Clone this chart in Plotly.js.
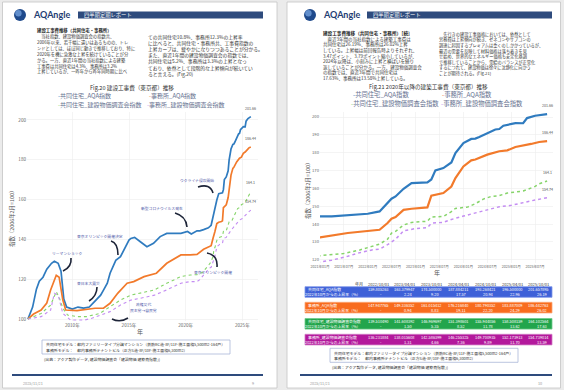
<!DOCTYPE html>
<html><head><meta charset="utf-8">
<script src="https://cdn.plot.ly/plotly-3.0.1.min.js"></script>
<style>html,body{margin:0;padding:0;background:#ebebeb}#chart{width:564px;height:390px}</style>
</head><body><div id="chart"></div>
<script>
// ---------------- DATA ----------------
const seriesNames = ['共同住宅_AQA指数','事務所_AQA指数','共同住宅_建設物価調査会指数','事務所_建設物価調査会指数'];

const kyodoAqaDates = ['2006-02','2006-07','2006-11','2007-02','2007-06','2007-10','2008-03','2008-06','2008-10','2009-01','2009-04','2009-07','2010-01','2010-07','2011-01','2011-07','2012-01','2012-07','2012-10','2013-02','2013-05','2013-11','2014-04','2014-09','2015-01','2015-03','2015-07','2016-01','2016-08','2017-03','2017-10','2018-05','2019-08','2020-03','2020-07','2021-01','2021-04','2021-08','2022-01','2022-04','2022-06','2022-07','2022-08','2022-10','2022-12','2023-03','2023-04','2023-05','2023-06','2023-08','2023-10','2023-11','2024-01','2024-03','2024-04','2024-05','2024-07','2024-09','2024-10','2024-11','2025-02','2025-04','2025-05','2025-07','2025-10'];
const kyodoAqaVals = [100,106,115,119,121,125,128,129,128,124,110,106,105,106,105.5,106,109,112,114.5,118,123,129.5,131.3,136.3,139.7,140.5,141,138.8,136.3,138,141.4,143,143,144,142.7,144.3,144.3,144.9,145.8,147.1,151.8,154.2,155.5,159.805263,163,163.2,163.379947,165,170.1,171.4,174.5,179.8,185.4,187.7,187.884211,188.8,191,193,193.268421,195.1,196.6,196.5,199.4,200.7,201.657895];

const jimushoAqaDates = ['2006-02','2006-08','2007-04','2007-10','2008-02','2008-08','2008-11','2009-03','2009-06','2010-06','2012-01','2012-10','2013-05','2014-01','2014-11','2015-06','2016-05','2017-06','2018-05','2019-08','2020-06','2021-01','2021-08','2022-02','2022-04','2022-06','2022-07','2022-08','2022-10','2022-12','2023-03','2023-04','2023-05','2023-08','2023-10','2023-11','2024-01','2024-03','2024-04','2024-07','2024-10','2024-12','2025-02','2025-04','2025-06','2025-08','2025-10'];
const jimushoAqaVals = [100,102.5,104.5,108,114.6,122,121,109.5,104.5,104.2,105.4,105.4,107.9,112.9,118,118.8,121.3,123,128,132.2,132.2,132.5,135,136.3,136.8,140.6,143,144,147.947765,148.6,149.0,149.336352,155.9,157.4,161.015412,165.8,172.3,175.7,176.21684,178.9,180.790352,181.3,183.2,183.887009,184.9,186.0,186.442763];

const kyodoKenDates = ['2006-02','2007-04','2008-02','2008-08','2008-11','2009-03','2009-08','2010-06','2011-04','2012-06','2013-05','2014-04','2015-03','2016-01','2017-04','2018-05','2019-08','2020-06','2021-01','2021-07','2021-11','2022-02','2022-04','2022-06','2022-07','2022-08','2022-10','2022-12','2023-04','2023-05','2023-08','2023-10','2023-11','2024-02','2024-04','2024-06','2024-08','2024-10','2024-12','2025-04','2025-07','2025-08','2025-10'];
const kyodoKenVals = [100,102.8,107,113.7,111,105.4,102,101.2,101.2,102.8,106.2,109.5,112,112.9,114.6,118,121.3,122.1,122.3,123.5,125.5,127.5,128.8,131.5,135,135.9,139.51049,140.9,141.608392,144,144.3,146.969697,148.8,149.5,151.398601,154,155.5,155.944056,157.4,158.508159,161.1,162.6,164.102564];

const jimushoKenDates = ['2006-02','2007-04','2008-02','2008-06','2008-10','2009-03','2009-11','2011-02','2011-09','2012-06','2013-05','2014-04','2015-03','2016-01','2017-04','2018-05','2019-08','2020-06','2021-01','2021-04','2021-08','2021-11','2022-02','2022-04','2022-06','2022-08','2022-10','2023-01','2023-04','2023-05','2023-08','2023-10','2024-01','2024-04','2024-07','2024-10','2025-01','2025-04','2025-07','2025-10'];
const jimushoKenVals = [100,101.2,104.5,112.9,112,102.8,99.5,99.5,100.3,102,103.7,107,109.5,110.4,112,114.6,118,118.8,118.8,119.8,122,124,125.5,126,128.5,131.5,136.231884,137.5,138.015608,140.5,141,142.586399,144.5,146.255325,148,149.700935,150.5,152.173913,153.5,154.739014];

const yearTicks = ['2010-01-01','2015-01-01','2020-01-01','2025-01-01'];
const yearTickLabels = ['2010年','2015年','2020年','2025年'];
const monthTicks = ['2021-01-01','2021-07-01','2022-01-01','2022-07-01','2023-01-01','2023-07-01','2024-01-01','2024-07-01','2025-01-01','2025-07-01'];
const monthTickLabels = ['2021年01月','2021年07月','2022年01月','2022年07月','2023年01月','2023年07月','2024年01月','2024年07月','2025年01月','2025年07月'];
const yTicksLeft = [100,120,140,160,180,200];
const yTicksRight = [120,130,140,150,160,170,180,190,200];

const tableDates = ['2022/10/01','2023/04/01','2023/10/01','2024/04/01','2024/10/01','2025/04/01','2025/10/01'];
const tableKyodoAqa = [159.805263,163.379947,174.500000,187.884211,193.268421,196.500000,201.657895];
const tableJimushoAqa = [147.947765,149.336352,161.015412,176.216840,180.790352,183.887009,186.442763];
const tableKyodoKen = [139.510490,141.608392,146.969697,151.398601,155.944056,158.508159,164.102564];
const tableJimushoKen = [136.231884,138.015608,142.586399,146.255325,149.700935,152.173913,154.739014];
const rateRowLabel = '2022年10月からの上昇率（%）';

// ---------------- HELPERS ----------------
const W = 564, H = 390;
const FONT = '"Noto Sans CJK JP","Noto Sans",sans-serif';
const px = x => x / W;
const py = y => 1 - y / H;
const shapes = [];
const ann = [];
function rect(x0, y0, x1, y1, fill, line, lw, layer) {
  shapes.push({type:'rect', xref:'paper', yref:'paper', x0:px(x0), x1:px(x1), y0:py(y1), y1:py(y0),
    fillcolor:fill, line:{color:line||'rgba(0,0,0,0)', width:lw||0}, layer:layer||'below'});
}
function circle(cx, cy, r, fill) {
  shapes.push({type:'circle', xref:'paper', yref:'paper', x0:px(cx-r), x1:px(cx+r), y0:py(cy+r), y1:py(cy-r),
    fillcolor:fill, line:{width:0}, layer:'above'});
}
function hline(x0, x1, y, color, w) {
  shapes.push({type:'line', xref:'paper', yref:'paper', x0:px(x0), x1:px(x1), y0:py(y), y1:py(y), line:{color, width:w}, layer:'above'});
}
function T(x, y, text, size, color, anchor, family) {
  ann.push({xref:'paper', yref:'paper', x:px(x), y:py(y), text, showarrow:false, xanchor:anchor||'left', yanchor:'middle',
    font:{size, color:color||'#333', family:family||FONT}, borderpad:0});
}
const ARROW = '#1d2438';
function curveArrow(x0, y0, cx, cy, x1, y1) {
  shapes.push({type:'path', xref:'paper', yref:'paper', layer:'above',
    path:`M ${px(x0)} ${py(y0)} Q ${px(cx)} ${py(cy)} ${px(x1)} ${py(y1)}`, line:{color:ARROW, width:1.6}});
  const dx = x1 - cx, dy = y1 - cy, L = Math.hypot(dx, dy);
  ann.push({xref:'paper', yref:'paper', x:px(x1), y:py(y1), ax:-dx/L*3, ay:-dy/L*3, axref:'pixel', ayref:'pixel',
    showarrow:true, arrowhead:2, arrowsize:0.9, arrowwidth:1.6, arrowcolor:ARROW, text:''});
}

// ---------------- PAGES ----------------
rect(2.5, 2, 277, 388, '#ffffff', '#c4c4c4', 0.8);
rect(287, 2, 560.5, 388, '#ffffff', '#c4c4c4', 0.8);

const NAVY = '#2e4b7d';
function header(lx, barX0, barX1) {
  circle(lx, 15, 6, '#1f4a8c');
  circle(lx - 1.6, 13.2, 3.2, 'rgba(120,165,225,0.75)');
  T(lx + 12, 15, '<b>AQAngle</b>', 9, '#1f3d73', 'left', 'Lato, "Noto Sans", sans-serif');
  rect(barX0, 11.5, barX1, 18.5, NAVY, null, 0, 'above');
  T(barX0 + 5, 15, '四半期定期レポート', 5.3, '#ffffff', 'left');
}
header(20, 78, 263);
header(310, 367, 552);

// ---------------- LEFT PAGE TEXT ----------------
T(36, 31, '<b>建設工事費推移（共同住宅・事務所）</b>', 4.4, '#222');
const leftColA = ['　当社指数、建設物価調査会の指数共、','2006年以来、若干幅に違いはあるものの、トレ','ンドとしては、ほぼ同じ動きで推移しており、特に','2020年を機に急激な上昇を続けていることが分','かる。一方、直近1年間の当社指数による建築','工事費は共同住宅は4.3%、事務所は3.2%','上昇しているが、一昨年から昨年同時期に比べ'];
leftColA.forEach((s,i)=>T(36, 36.5 + i*5.9, s, 4.3, '#333'));
const leftColB = ['ての共同住宅10.8%、事務所12.3%の上昇率','に比べると、共同住宅・事務所共、工事費指数の','上昇カーブは、緩やかになりつつあることが分かる。','また、直近1年間の建設物価調査会の指数では、','共同住宅は5.2%、事務所は3.3%の上昇となっ','ており、依然として段階的な上昇傾向が続いてい','ると言える。(Fig.20)'];
leftColB.forEach((s,i)=>T(147, 36.5 + i*6.2, s, 4.8, '#333'));
T(132, 88.3, 'Fig.20 建設工事費（東京都）推移', 5.6, '#333', 'center');

// ---------------- RIGHT PAGE TEXT ----------------
T(322, 33, '<b>建設工事費推移（共同住宅・事務所）［続］</b>', 4.6, '#222');
const rightColA = ['　直近3年間の当社指数による建築工事費は','共同住宅は26.19%、事務所は26.02%上昇','している。上昇幅は前回報告時よりそれぞれ、','3.47ポイント、3.79ポイント縮小しているが、','2024年以降は、小刻みに上昇と横ばいを繰り','返していることが分かる。一方、建設物価調査会','の指数では、直近3年間で共同住宅は','17.63%、事務所は13.58%上昇している。'];
rightColA.forEach((s,i)=>T(322, 39.3 + i*5.57, s, 4.5, '#333'));
const rightColB = ['　先行きの建設工事価格においては、依然として','労務費は上昇傾向が続き、ゼネコンやサブコンの','調達に起因するプレミアムは重くのしかかっているが、','最近の需要を反映して材料価格は落ち着きを見','せ始め、世界的なエネルギー価格も安定化基調','で推移していることから、需給のバランスが正常化','するにつれて、建設物価は徐々に沈静化に向かう','ことが期待される。(Fig.21)'];
rightColB.forEach((s,i)=>T(438, 34.3 + i*5.57, s, 4.2, '#333'));
T(428, 87.3, 'Fig.21 2020年以降の建築工事費（東京都）推移', 5.6, '#333', 'center');

// ---------------- LEGENDS ----------------
const colors = ['#2f7bbf','#f27a2b','#86d46a','#c48df2'];
const LEG = '#66718f';
function legItem(x, y, i, size) {
  T(x, y, `<span style="color:${colors[i]}">-</span>${seriesNames[i]}`, size, LEG);
}
legItem(57, 95.8, 0, 6); legItem(148, 95.8, 1, 6); legItem(57, 104.3, 2, 6); legItem(146, 104.3, 3, 6);
legItem(352, 94.5, 0, 6.3); legItem(441, 94.5, 1, 6.3); legItem(350, 104, 2, 6.3); legItem(440, 104, 3, 6.3);

// ---------------- AXIS TITLES ----------------
ann.push({xref:'paper', yref:'paper', x:px(12), y:py(218), text:'指数（2006年2月=100）', textangle:-90, showarrow:false,
  font:{size:5.4, color:'#555', family:FONT}, xanchor:'center', yanchor:'middle'});
ann.push({xref:'paper', yref:'paper', x:px(308), y:py(190), text:'指数（2006年2月=100）', textangle:-90, showarrow:false,
  font:{size:5.4, color:'#555', family:FONT}, xanchor:'center', yanchor:'middle'});
T(140, 331, '年', 6, '#555', 'center');
T(437, 272, '年', 6, '#555', 'center');

// ---------------- EVENT ANNOTATIONS (left chart) ----------------
const EV = '#4b55a8';
T(67, 253, 'リーマンショック', 3.8, EV, 'center');
curveArrow(71, 258, 72, 267, 63, 271);
T(88, 283, '東日本大震災', 3.8, EV, 'center');
curveArrow(97, 287, 97, 296, 89, 301);
T(100, 237, '東京オリンピック開催決定', 3.8, EV, 'center');
curveArrow(111, 241, 118, 243, 118, 255);
T(162, 208, '新型コロナウイルス発生', 3.8, EV, 'center');
curveArrow(175, 213, 186, 216, 187, 227);
T(197, 180, 'ウクライナ侵攻開始', 3.8, EV, 'center');
curveArrow(198, 187, 210, 183, 213, 193);
T(213, 272, '東京オリンピック開催', 3.8, EV, 'center');
curveArrow(217, 267, 218, 255, 207, 253);
T(143, 304, '政権交代', 3.8, EV, 'center');
T(143, 310, '民主党→自民党', 3.8, EV, 'center');
curveArrow(128, 318, 120, 323, 112, 319);

// ---------------- NOTES & FOOTERS ----------------
function notes(x0, y0) {
  rect(x0, y0, x0 + 188, y0 + 14, '#ffffff', '#a9b6d8', 0.8, 'above');
  T(x0 + 3, y0 + 4.2, '共同住宅モデル：都内ファミリータイプ分譲マンション（鉄筋RC造-8F/11F-施工面積5,500m2-164戸）', 3.9, '#333');
  T(x0 + 3, y0 + 10, '事務所モデル：　都内事務所テナントビル（正方S造-8F/10F-施工面積6,300m2）', 3.9, '#333');
  T(x0 + 1, y0 + 19, '(出典：アクア製作データ, 建設物価調査会「建設物価 建築費指数」)', 3.9, '#333');
}
notes(42, 340);
notes(330, 348.3);
hline(12, 263, 375, NAVY, 2.2);
hline(300, 552, 375, NAVY, 2.2);
T(22, 383, '2025/11/21', 3.8, '#999');
T(253, 383, '9', 3.8, '#999', 'center');
T(309, 383, '2025/11/21', 3.8, '#999');
T(540, 383, '10', 3.8, '#999', 'center');

// ---------------- TABLES ----------------
const colRight = tableDates.map((d,i) => 389.5 + i*26.8);
const colCenter = colRight.map(r => r - 10.5);
T(364, 284, '年月', 4.1, '#333', 'right');
tableDates.forEach((d,i) => T(colRight[i], 284, d, 4.1, '#333', 'right'));
const tables = [
  {name:seriesNames[0], vals:tableKyodoAqa, fill:'#3e61d8', edge:'#7f97e8', top:286.7},
  {name:seriesNames[1], vals:tableJimushoAqa, fill:'#f86c1e', edge:'#fba472', top:302.3},
  {name:seriesNames[2], vals:tableKyodoKen, fill:'#22a54c', edge:'#6fcb8a', top:318.5},
  {name:seriesNames[3], vals:tableJimushoKen, fill:'#b3189c', edge:'#d27ac4', top:334.3},
];
tables.forEach(t => {
  rect(305, t.top, 552, t.top + 10.6, t.fill, t.edge, 0.8, 'above');
  const r1 = t.top + 2.7, r2 = t.top + 7.6;
  T(307, r1, t.name, 3.9, '#fff');
  T(361, r2, rateRowLabel, 3.9, '#fff', 'right');
  t.vals.forEach((v,i) => {
    T(colRight[i], r1, v.toFixed(6), 3.9, '#fff', 'right');
    const rate = i === 0 ? '-' : ((v / t.vals[0] - 1) * 100).toFixed(2);
    T(colCenter[i] + 2, r2, rate, 3.9, '#fff', 'center');
  });
});

// ---------------- TRACES ----------------
const dateSets = [kyodoAqaDates, jimushoAqaDates, kyodoKenDates, jimushoKenDates];
const valSets = [kyodoAqaVals, jimushoAqaVals, kyodoKenVals, jimushoKenVals];
const traces = [];
[['x','y',[1.7,1.7,1.1,1.1]], ['x2','y2',[2.2,2.2,1.5,1.5]]].forEach(([xa, ya, widths]) => {
  valSets.forEach((vals, i) => {
    traces.push({type:'scatter', mode:'lines', x:dateSets[i], y:vals, xaxis:xa, yaxis:ya, name:seriesNames[i],
      line:{color:colors[i], width:widths[i], dash: i >= 2 ? 'dot' : 'solid'}, hoverinfo:'skip', showlegend:false});
  });
  valSets.forEach((vals, i) => {
    const last = vals[vals.length - 1];
    ann.push({xref:xa, yref:ya, x:dateSets[i][dateSets[i].length - 1], y:last, text:String(Math.round(last*100)/100),
      showarrow:false, yshift:4, xanchor:'center', yanchor:'bottom', font:{size:3.6, color:'#555', family:FONT}});
  });
});

const axFont = {size:4.6, color:'#666', family:FONT};
const layout = {
  width: W, height: H, margin:{l:0, r:0, t:0, b:0},
  paper_bgcolor:'#ebebeb', plot_bgcolor:'#ffffff', showlegend:false,
  font:{family:FONT},
  xaxis:{domain:[px(27), px(258)], anchor:'y', type:'date', range:['2006-01-01','2026-05-20'],
    tickvals:yearTicks, ticktext:yearTickLabels, tickfont:axFont, gridcolor:'#ececec', gridwidth:0.6,
    zeroline:false, showline:false, ticks:'', automargin:false},
  yaxis:{domain:[py(321), py(112)], anchor:'x', range:[99, 204], tickvals:yTicksLeft, tickfont:axFont,
    gridcolor:'#ececec', gridwidth:0.6, zeroline:false, showline:false, ticks:'', automargin:false},
  xaxis2:{domain:[px(320), px(553)], anchor:'y2', type:'date', range:['2021-01-01','2025-11-15'],
    tickvals:monthTicks, ticktext:monthTickLabels, tickfont:{size:3.6, color:'#666', family:FONT},
    gridcolor:'#ececec', gridwidth:0.6, zeroline:false, showline:false, ticks:'', automargin:false},
  yaxis2:{domain:[py(263), py(112)], anchor:'x2', range:[118.2, 202.8], tickvals:yTicksRight,
    tickfont:{size:4.2, color:'#666', family:FONT}, gridcolor:'#ececec', gridwidth:0.6, zeroline:false,
    showline:false, ticks:'', automargin:false},
  shapes, annotations: ann
};
Plotly.newPlot('chart', traces, layout, {displayModeBar:false, staticPlot:true});
</script></body></html>
